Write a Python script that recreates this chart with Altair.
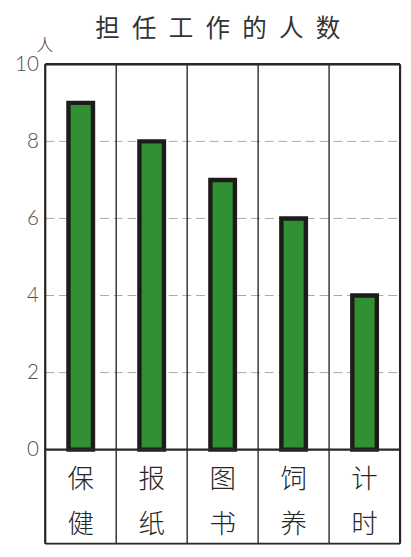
import altair as alt
import pandas as pd

categories = ["保健", "报纸", "图书", "饲养", "计时"]
counts = [9, 8, 7, 6, 4]
y_ticks = [0, 2, 4, 6, 8, 10]
grid_values = [2, 4, 6, 8]
frame_values = [0, 10]
title_text = "\u2002".join("担任工作的人数")
unit_label = "人"

df = pd.DataFrame({
    "cat": categories,
    "count": counts,
    "first": [c[0] for c in categories],
    "second": [c[1] for c in categories],
})

W, H = 362, 489
ymin = -2.44
y_scale = alt.Scale(domain=[ymin, 10], nice=False, zero=False)
x_scale = alt.Scale(paddingInner=0, paddingOuter=0)
INK = "#2a2623"
CJK = "Noto Sans CJK SC"

y_axis = alt.Axis(
    values=y_ticks, grid=False, domain=False, ticks=False,
    labelFont="Lato", labelFontWeight=300, labelFontSize=21,
    labelColor="#505050", labelPadding=7,
    title=unit_label, titleAngle=0, titleFont=CJK, titleFontSize=17,
    titleFontWeight=300, titleColor="#333333", titleAlign="center",
    titleBaseline="middle", titleX=-1, titleY=-19,
)


def xcat(**kw):
    return alt.X("cat:N", sort=categories, scale=x_scale, axis=None, **kw)


base = alt.Chart(df)

grid = alt.Chart(pd.DataFrame({"v": grid_values})).mark_rule(
    color="#a8a8a8", strokeWidth=1, strokeDash=[9, 5]
).encode(
    y=alt.Y("v:Q", scale=y_scale, axis=y_axis, title=unit_label),
    x=alt.value(0), x2=alt.value(W),
)

separators = base.mark_rule(color=INK, strokeWidth=1.4).encode(
    x=xcat(bandPosition=0),
    y=alt.value(0), y2=alt.value(H),
)

bars = base.mark_bar(
    size=25, color="#309033", stroke="#1e1c1a", strokeWidth=4.5
).encode(
    x=xcat(),
    y=alt.Y("count:Q", scale=y_scale, axis=y_axis, title=unit_label),
    y2=alt.datum(0),
)

hframe = alt.Chart(pd.DataFrame({"v": frame_values})).mark_rule(
    color=INK, strokeWidth=2.5
).encode(
    y=alt.Y("v:Q", scale=y_scale, axis=y_axis, title=unit_label),
    x=alt.value(0), x2=alt.value(W),
)

vframe = alt.Chart(pd.DataFrame({"p": [0, W]})).mark_rule(
    color=INK, strokeWidth=2.2
).encode(
    x=alt.X("p:Q", scale=None, axis=None),
    y=alt.value(0), y2=alt.value(H),
)

bottom_line = alt.Chart(pd.DataFrame({"v": [0]})).mark_rule(
    color=INK, strokeWidth=2
).encode(
    y=alt.value(H), x=alt.value(0), x2=alt.value(W),
)

lab1 = base.mark_text(font=CJK, fontSize=27, fontWeight=300, color="#262626").encode(
    x=xcat(), y=alt.YDatum(-0.78, scale=y_scale, axis=y_axis, title=unit_label),
    text="first:N",
)
lab2 = base.mark_text(font=CJK, fontSize=27, fontWeight=300, color="#262626").encode(
    x=xcat(), y=alt.YDatum(-1.97, scale=y_scale, axis=y_axis, title=unit_label),
    text="second:N",
)

chart = alt.layer(
    grid, separators, bars, hframe, vframe, bottom_line, lab1, lab2
).properties(
    width=W, height=H,
    autosize=alt.AutoSizeParams(type="none"),
    padding={"left": 38, "top": 52, "right": 3, "bottom": 0},
    title=alt.TitleParams(
        title_text, font=CJK, fontSize=25, fontWeight=400, color="#333333",
        anchor="middle", offset=-5, dx=-5,
    ),
).configure_view(stroke=None).configure(background="white")

chart.save("out.html", embed_options={"renderer": "svg", "actions": False})
